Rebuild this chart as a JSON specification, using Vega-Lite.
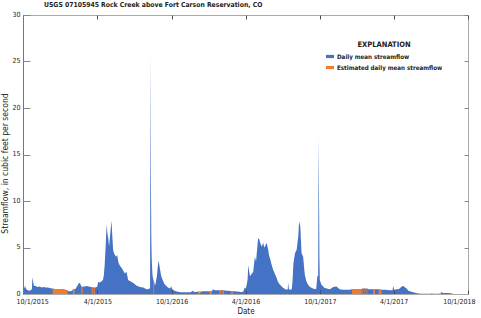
{
  "$schema": "https://vega.github.io/schema/vega-lite/v6.json",
  "autosize": "none",
  "width": 445,
  "height": 279,
  "padding": {"left": 23, "top": 15, "right": 13, "bottom": 24},
  "background": "white",
  "config": {
    "view": {"stroke": "#aaaaaa", "strokeWidth": 1},
    "font": "DejaVu Sans Condensed, sans-serif"
  },
  "title": {
    "text": "USGS 07105945 Rock Creek above Fort Carson Reservation, CO",
    "anchor": "start",
    "frame": "group",
    "fontSize": 6.8,
    "fontWeight": "bold",
    "color": "#222",
    "offset": 5,
    "dx": 21,
    "dy": 4
  },
  "data": {
    "values": [
      {"date": "2015-10-01", "flow": 0.8}, {"date": "2015-10-04", "flow": 0.6}, {"date": "2015-10-06", "flow": 0.9},
      {"date": "2015-10-09", "flow": 0.5}, {"date": "2015-10-13", "flow": 0.4}, {"date": "2015-10-18", "flow": 0.35},
      {"date": "2015-10-21", "flow": 0.45}, {"date": "2015-10-23", "flow": 0.5}, {"date": "2015-10-24", "flow": 1.8},
      {"date": "2015-10-26", "flow": 1.3}, {"date": "2015-10-28", "flow": 0.9}, {"date": "2015-11-01", "flow": 0.85},
      {"date": "2015-11-06", "flow": 0.75}, {"date": "2015-11-11", "flow": 0.8}, {"date": "2015-11-16", "flow": 0.7},
      {"date": "2015-11-21", "flow": 0.75}, {"date": "2015-11-26", "flow": 0.7}, {"date": "2015-12-01", "flow": 0.7},
      {"date": "2015-12-06", "flow": 0.65}, {"date": "2015-12-11", "flow": 0.6},
      {"date": "2015-12-13", "flow": 0.6, "est": "E1"}, {"date": "2015-12-18", "flow": 0.55, "est": "E1"},
      {"date": "2015-12-26", "flow": 0.55, "est": "E1"}, {"date": "2016-01-01", "flow": 0.55, "est": "E1"},
      {"date": "2016-01-07", "flow": 0.5, "est": "E1"}, {"date": "2016-01-13", "flow": 0.45, "est": "E1"},
      {"date": "2016-01-19", "flow": 0.4, "est": "E1"},
      {"date": "2016-01-21", "flow": 0.3}, {"date": "2016-01-26", "flow": 0.3}, {"date": "2016-01-30", "flow": 0.35},
      {"date": "2016-02-01", "flow": 0.5, "est": "E2"}, {"date": "2016-02-05", "flow": 0.5, "est": "E2"},
      {"date": "2016-02-08", "flow": 0.6}, {"date": "2016-02-12", "flow": 0.9}, {"date": "2016-02-16", "flow": 1.2},
      {"date": "2016-02-19", "flow": 1.1}, {"date": "2016-02-21", "flow": 0.9},
      {"date": "2016-02-22", "flow": 0.8, "est": "E3"}, {"date": "2016-02-25", "flow": 0.75, "est": "E3"},
      {"date": "2016-02-27", "flow": 0.8}, {"date": "2016-03-01", "flow": 0.8}, {"date": "2016-03-06", "flow": 0.85},
      {"date": "2016-03-11", "flow": 0.8}, {"date": "2016-03-16", "flow": 0.75},
      {"date": "2016-03-18", "flow": 0.75, "est": "E4"}, {"date": "2016-03-21", "flow": 0.7, "est": "E4"},
      {"date": "2016-03-23", "flow": 0.7, "est": "E5"}, {"date": "2016-03-26", "flow": 0.7, "est": "E5"},
      {"date": "2016-03-28", "flow": 0.7}, {"date": "2016-04-01", "flow": 0.8}, {"date": "2016-04-03", "flow": 1.3},
      {"date": "2016-04-07", "flow": 1.25}, {"date": "2016-04-11", "flow": 1.35}, {"date": "2016-04-15", "flow": 1.5},
      {"date": "2016-04-17", "flow": 2.0}, {"date": "2016-04-19", "flow": 3.0}, {"date": "2016-04-22", "flow": 5.5},
      {"date": "2016-04-24", "flow": 7.5}, {"date": "2016-04-26", "flow": 6.5}, {"date": "2016-04-28", "flow": 6.0},
      {"date": "2016-04-30", "flow": 5.1}, {"date": "2016-05-03", "flow": 6.5}, {"date": "2016-05-06", "flow": 7.9},
      {"date": "2016-05-08", "flow": 6.2}, {"date": "2016-05-10", "flow": 4.7}, {"date": "2016-05-13", "flow": 4.3},
      {"date": "2016-05-17", "flow": 4.0}, {"date": "2016-05-20", "flow": 4.2}, {"date": "2016-05-23", "flow": 3.4},
      {"date": "2016-05-26", "flow": 3.1}, {"date": "2016-05-31", "flow": 2.8}, {"date": "2016-06-04", "flow": 2.5},
      {"date": "2016-06-08", "flow": 2.2}, {"date": "2016-06-12", "flow": 2.4}, {"date": "2016-06-16", "flow": 1.5},
      {"date": "2016-06-20", "flow": 1.4}, {"date": "2016-06-28", "flow": 1.2}, {"date": "2016-07-07", "flow": 0.9},
      {"date": "2016-07-15", "flow": 0.75}, {"date": "2016-07-23", "flow": 0.7}, {"date": "2016-07-31", "flow": 0.5},
      {"date": "2016-08-04", "flow": 0.5}, {"date": "2016-08-07", "flow": 0.6}, {"date": "2016-08-09", "flow": 0.6},
      {"date": "2016-08-10", "flow": 25.8}, {"date": "2016-08-11", "flow": 12.8}, {"date": "2016-08-12", "flow": 6.2},
      {"date": "2016-08-13", "flow": 3.8}, {"date": "2016-08-15", "flow": 2.0},
      {"date": "2016-08-17", "flow": 1.5, "est": "E6"}, {"date": "2016-08-19", "flow": 1.3, "est": "E6"},
      {"date": "2016-08-21", "flow": 0.9}, {"date": "2016-08-23", "flow": 1.2}, {"date": "2016-08-26", "flow": 2.0},
      {"date": "2016-08-28", "flow": 3.0}, {"date": "2016-08-30", "flow": 3.6}, {"date": "2016-09-02", "flow": 2.8},
      {"date": "2016-09-05", "flow": 2.0}, {"date": "2016-09-09", "flow": 1.5}, {"date": "2016-09-13", "flow": 1.1},
      {"date": "2016-09-18", "flow": 0.85}, {"date": "2016-09-22", "flow": 0.7}, {"date": "2016-09-27", "flow": 0.6},
      {"date": "2016-09-30", "flow": 0.8}, {"date": "2016-10-03", "flow": 0.5}, {"date": "2016-10-08", "flow": 0.35},
      {"date": "2016-10-16", "flow": 0.25}, {"date": "2016-10-24", "flow": 0.2}, {"date": "2016-11-05", "flow": 0.2},
      {"date": "2016-11-17", "flow": 0.2}, {"date": "2016-11-22", "flow": 0.35}, {"date": "2016-11-27", "flow": 0.2},
      {"date": "2016-12-02", "flow": 0.25},
      {"date": "2016-12-05", "flow": 0.25, "est": "E7"}, {"date": "2016-12-11", "flow": 0.25, "est": "E7"},
      {"date": "2016-12-17", "flow": 0.3}, {"date": "2016-12-24", "flow": 0.3}, {"date": "2016-12-30", "flow": 0.3},
      {"date": "2017-01-02", "flow": 0.3, "est": "E8"}, {"date": "2017-01-08", "flow": 0.3, "est": "E8"},
      {"date": "2017-01-11", "flow": 0.5}, {"date": "2017-01-15", "flow": 0.4}, {"date": "2017-01-23", "flow": 0.4},
      {"date": "2017-01-27", "flow": 0.4, "est": "E9"}, {"date": "2017-01-31", "flow": 0.4, "est": "E9"},
      {"date": "2017-02-02", "flow": 0.4},
      {"date": "2017-02-03", "flow": 0.4, "est": "E10"}, {"date": "2017-02-07", "flow": 0.4, "est": "E10"},
      {"date": "2017-02-12", "flow": 0.35}, {"date": "2017-02-19", "flow": 0.35},
      {"date": "2017-02-25", "flow": 0.3, "est": "E11"}, {"date": "2017-03-01", "flow": 0.3, "est": "E11"},
      {"date": "2017-03-06", "flow": 0.3}, {"date": "2017-03-16", "flow": 0.25}, {"date": "2017-03-23", "flow": 0.2},
      {"date": "2017-03-27", "flow": 0.3}, {"date": "2017-03-30", "flow": 0.7}, {"date": "2017-04-02", "flow": 0.6},
      {"date": "2017-04-06", "flow": 1.5}, {"date": "2017-04-08", "flow": 3.1}, {"date": "2017-04-12", "flow": 1.9},
      {"date": "2017-04-15", "flow": 2.1}, {"date": "2017-04-20", "flow": 2.4}, {"date": "2017-04-24", "flow": 4.0},
      {"date": "2017-04-27", "flow": 3.5}, {"date": "2017-05-02", "flow": 6.0}, {"date": "2017-05-05", "flow": 5.9},
      {"date": "2017-05-07", "flow": 5.5}, {"date": "2017-05-11", "flow": 5.1}, {"date": "2017-05-15", "flow": 5.5},
      {"date": "2017-05-17", "flow": 5.0}, {"date": "2017-05-19", "flow": 5.1}, {"date": "2017-05-23", "flow": 5.5},
      {"date": "2017-05-27", "flow": 4.75}, {"date": "2017-05-29", "flow": 4.1}, {"date": "2017-05-31", "flow": 3.9},
      {"date": "2017-06-04", "flow": 3.2}, {"date": "2017-06-08", "flow": 2.6}, {"date": "2017-06-12", "flow": 2.2},
      {"date": "2017-06-17", "flow": 1.7}, {"date": "2017-06-20", "flow": 1.3}, {"date": "2017-06-25", "flow": 1.0},
      {"date": "2017-07-03", "flow": 0.65}, {"date": "2017-07-11", "flow": 0.45}, {"date": "2017-07-14", "flow": 0.5},
      {"date": "2017-07-15", "flow": 1.2}, {"date": "2017-07-17", "flow": 0.5}, {"date": "2017-07-19", "flow": 0.45},
      {"date": "2017-07-24", "flow": 0.5}, {"date": "2017-07-26", "flow": 1.5}, {"date": "2017-07-28", "flow": 3.3},
      {"date": "2017-08-01", "flow": 4.4}, {"date": "2017-08-05", "flow": 4.75}, {"date": "2017-08-07", "flow": 5.5},
      {"date": "2017-08-09", "flow": 6.2}, {"date": "2017-08-11", "flow": 7.8}, {"date": "2017-08-14", "flow": 7.25},
      {"date": "2017-08-17", "flow": 4.4}, {"date": "2017-08-21", "flow": 4.0}, {"date": "2017-08-23", "flow": 3.0},
      {"date": "2017-08-25", "flow": 2.1}, {"date": "2017-08-29", "flow": 1.35}, {"date": "2017-09-02", "flow": 1.0},
      {"date": "2017-09-07", "flow": 0.75}, {"date": "2017-09-14", "flow": 0.6}, {"date": "2017-09-22", "flow": 0.5},
      {"date": "2017-09-25", "flow": 1.9}, {"date": "2017-09-27", "flow": 2.0}, {"date": "2017-09-28", "flow": 16.8},
      {"date": "2017-09-29", "flow": 11.0}, {"date": "2017-09-30", "flow": 4.0}, {"date": "2017-10-01", "flow": 1.5},
      {"date": "2017-10-05", "flow": 1.0}, {"date": "2017-10-13", "flow": 0.65}, {"date": "2017-10-26", "flow": 0.5},
      {"date": "2017-11-03", "flow": 0.75}, {"date": "2017-11-11", "flow": 0.8}, {"date": "2017-11-19", "flow": 0.5},
      {"date": "2017-11-27", "flow": 0.45}, {"date": "2017-12-06", "flow": 0.45}, {"date": "2017-12-14", "flow": 0.45},
      {"date": "2017-12-19", "flow": 0.5, "est": "E12"}, {"date": "2017-12-29", "flow": 0.5, "est": "E12"},
      {"date": "2018-01-12", "flow": 0.55, "est": "E12"},
      {"date": "2018-01-14", "flow": 0.6, "est": "E13"}, {"date": "2018-01-16", "flow": 0.6, "est": "E13"},
      {"date": "2018-01-18", "flow": 0.6},
      {"date": "2018-01-19", "flow": 0.6, "est": "E14"}, {"date": "2018-01-21", "flow": 0.6, "est": "E14"},
      {"date": "2018-01-23", "flow": 0.55},
      {"date": "2018-01-24", "flow": 0.6, "est": "E15"}, {"date": "2018-01-26", "flow": 0.6, "est": "E15"},
      {"date": "2018-01-28", "flow": 0.5}, {"date": "2018-02-03", "flow": 0.5}, {"date": "2018-02-08", "flow": 0.5},
      {"date": "2018-02-09", "flow": 0.5, "est": "E16"}, {"date": "2018-02-14", "flow": 0.5, "est": "E16"},
      {"date": "2018-02-17", "flow": 0.5}, {"date": "2018-02-21", "flow": 0.5},
      {"date": "2018-02-23", "flow": 0.5, "est": "E17"}, {"date": "2018-03-02", "flow": 0.45, "est": "E17"},
      {"date": "2018-03-04", "flow": 0.45}, {"date": "2018-03-12", "flow": 0.45}, {"date": "2018-03-22", "flow": 0.4},
      {"date": "2018-03-29", "flow": 0.4}, {"date": "2018-03-31", "flow": 0.9}, {"date": "2018-04-02", "flow": 0.45},
      {"date": "2018-04-08", "flow": 0.5}, {"date": "2018-04-14", "flow": 0.55}, {"date": "2018-04-21", "flow": 0.8},
      {"date": "2018-04-25", "flow": 0.85}, {"date": "2018-04-29", "flow": 0.7}, {"date": "2018-05-03", "flow": 0.6},
      {"date": "2018-05-07", "flow": 0.35}, {"date": "2018-05-11", "flow": 0.3}, {"date": "2018-05-19", "flow": 0.2},
      {"date": "2018-05-26", "flow": 0.1}, {"date": "2018-06-01", "flow": 0.05}, {"date": "2018-06-10", "flow": 0.03},
      {"date": "2018-06-25", "flow": 0.03}, {"date": "2018-07-03", "flow": 0.03}, {"date": "2018-07-04", "flow": 0.12},
      {"date": "2018-07-06", "flow": 0.03}, {"date": "2018-07-19", "flow": 0.03}, {"date": "2018-07-26", "flow": 0.05},
      {"date": "2018-07-28", "flow": 0.25}, {"date": "2018-07-31", "flow": 0.12}, {"date": "2018-08-13", "flow": 0.1},
      {"date": "2018-08-23", "flow": 0.05}, {"date": "2018-08-25", "flow": 0}, {"date": "2018-10-01", "flow": 0}
    ],
    "format": {"parse": {"date": "utc:'%Y-%m-%d'"}}
  },
  "layer": [
    {
      "mark": {"type": "area", "interpolate": "linear"},
      "encoding": {
        "x": {
          "field": "date", "type": "temporal",
          "scale": {"type": "utc", "domain": [{"year": 2015, "month": 10, "date": 1, "utc": true}, {"year": 2018, "month": 10, "date": 1, "utc": true}]},
          "axis": {
            "orient": "bottom", "title": "Date",
            "values": [
              {"year": 2015, "month": 10, "date": 1, "utc": true}, {"year": 2016, "month": 4, "date": 1, "utc": true},
              {"year": 2016, "month": 10, "date": 1, "utc": true}, {"year": 2017, "month": 4, "date": 1, "utc": true},
              {"year": 2017, "month": 10, "date": 1, "utc": true}, {"year": 2018, "month": 4, "date": 1, "utc": true},
              {"year": 2018, "month": 10, "date": 1, "utc": true}
            ],
            "labelExpr": "utcmonth(datum.value) == 3 ? '4/1/' + (utcyear(datum.value) - 1) : '10/1/' + utcyear(datum.value)",
            "ticks": false,
            "grid": true, "gridColor": "#4a4a5a", "gridWidth": 1, "gridDash": [4, 271, 4, 1000],
            "domainColor": "#aaaaaa",
            "labelPadding": 3, "labelFontSize": 7, "labelColor": "#222", "labelFlush": true, "labelFlushOffset": 7,
            "titleFontSize": 8, "titleFontWeight": "normal", "titleColor": "#222", "titlePadding": 3, "zindex": 1
          }
        },
        "y": {
          "field": "flow", "type": "quantitative", "stack": null,
          "scale": {"domain": [0, 30], "nice": false},
          "axis": {
            "orient": "left", "title": "Streamflow, in cubic feet per second",
            "values": [0, 5, 10, 15, 20, 25, 30],
            "ticks": false,
            "grid": true, "gridColor": "#888888", "gridWidth": 1, "gridDash": [7, 434, 4, 1000],
            "domainColor": "#777777",
            "labelPadding": 3, "labelFontSize": 7, "labelColor": "#222", "labelOffset": -1,
            "titleFontSize": 8.5, "titleFontWeight": "normal", "titleColor": "#222", "titlePadding": 2, "titleY": 148, "zindex": 1
          }
        },
        "color": {
          "datum": "Daily mean streamflow", "type": "nominal",
          "scale": {"domain": ["Daily mean streamflow", "Estimated daily mean streamflow"], "range": ["#4472C4", "#ED7D31"]},
          "legend": {
            "title": "EXPLANATION", "orient": "none", "legendX": 303, "legendY": 26,
            "padding": 0, "titleAnchor": "middle", "titleAlign": "center",
            "titleFontSize": 7.5, "titleFontWeight": "bold", "titleColor": "#222", "titlePadding": 4,
            "labelFontSize": 6.2, "labelFontWeight": "bold", "labelColor": "#222", "labelOffset": 3,
            "symbolType": "M-1,-0.4H1V0.4H-1Z", "symbolSize": 64, "symbolStrokeWidth": 0, "rowPadding": 3
          }
        }
      }
    },
    {
      "transform": [{"filter": "datum.est != null"}],
      "mark": {"type": "area", "interpolate": "linear"},
      "encoding": {
        "x": {"field": "date", "type": "temporal"},
        "y": {"field": "flow", "type": "quantitative", "stack": null},
        "detail": {"field": "est", "type": "nominal"},
        "color": {"datum": "Estimated daily mean streamflow", "type": "nominal"}
      }
    }
  ]
}
